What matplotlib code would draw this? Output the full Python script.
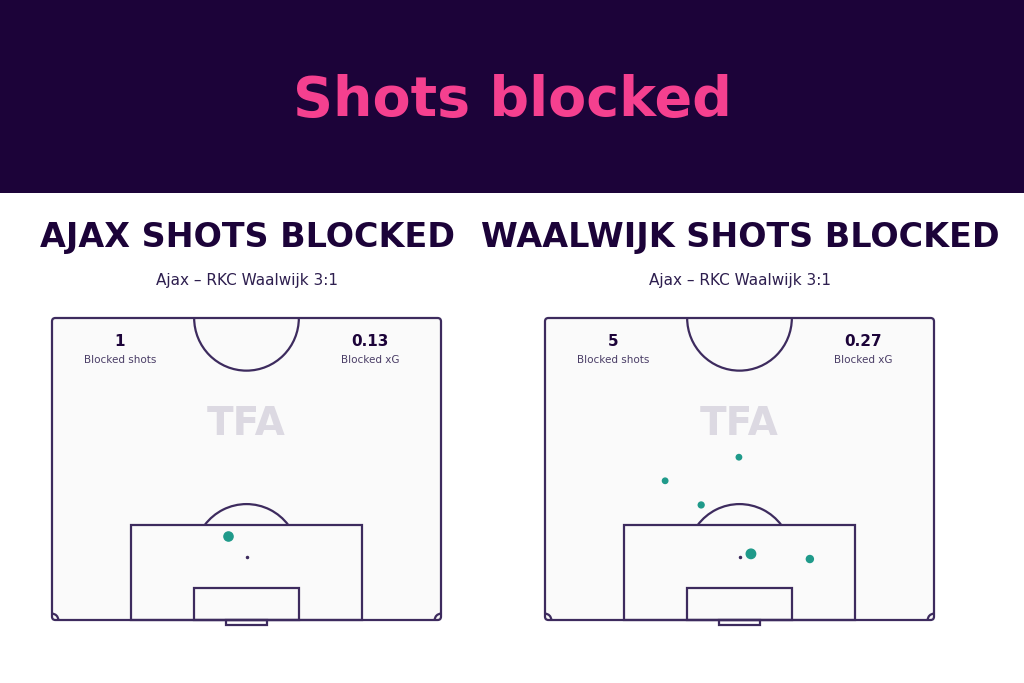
import matplotlib
matplotlib.use("Agg")
import matplotlib.pyplot as plt
from matplotlib.patches import Rectangle, Arc, FancyBboxPatch

# data (pitch metres, 0 = goal line, x across 68m)
ajax_x = [30.8]
ajax_y = [14.6]
ajax_xg = [0.13]

rkc_x = [33.9, 21.0, 27.3, 36.0, 46.3]
rkc_y = [28.3, 24.2, 20.0, 11.5, 10.6]
rkc_xg = [0.02, 0.02, 0.03, 0.14, 0.06]

teams = ["AJAX SHOTS BLOCKED", "WAALWIJK SHOTS BLOCKED"]
match_label = "Ajax – RKC Waalwijk 3:1"
blocked_shots = ["1", "5"]
blocked_xg = ["0.13", "0.27"]

NAVY = "#1c0339"
PINK = "#f5408f"
LINE = "#3d2b5e"
TEAL = "#1f9a8a"

W, H = 1024, 683
fig = plt.figure(figsize=(W / 100, H / 100), dpi=100)
fig.patch.set_facecolor("white")


def fx(px):
  return px / W


def fy(py):
  return 1 - py / H


# header band
band = fig.add_axes([0, fy(193), 1, 193 / H])
band.set_facecolor(NAVY)
band.set_xticks([])
band.set_yticks([])
for s in band.spines.values():
  s.set_visible(False)
fig.text(0.5, fy(101), "Shots blocked", color=PINK, fontsize=40, fontweight="bold",
         ha="center", va="center")


def draw_pitch(ax):
  lw = 1.6
  ax.set_xlim(0, 68)
  ax.set_ylim(0, 52.5)
  ax.set_facecolor("#fafafa")
  ax.set_xticks([])
  ax.set_yticks([])
  for s in ax.spines.values():
    s.set_visible(False)
  kw = dict(fill=False, ec=LINE, lw=lw, clip_on=False)
  ax.add_patch(FancyBboxPatch((0, 0), 68, 52.5, boxstyle="round,pad=0,rounding_size=0.6", **kw))
  # penalty box, six yard box, goal
  ax.add_patch(Rectangle((13.84, 0), 40.32, 16.5, **kw))
  ax.add_patch(Rectangle((24.84, 0), 18.32, 5.5, **kw))
  ax.add_patch(Rectangle((30.34, -0.9), 7.32, 0.9, **kw))
  # arcs
  ax.add_patch(Arc((34, 52.5), 18.3, 18.3, theta1=180, theta2=360, ec=LINE, lw=lw, clip_on=False))
  ax.add_patch(Arc((34, 11), 18.3, 18.3, theta1=37, theta2=143, ec=LINE, lw=lw))
  ax.add_patch(Arc((0, 0), 2.2, 2.2, theta1=0, theta2=90, ec=LINE, lw=lw))
  ax.add_patch(Arc((68, 0), 2.2, 2.2, theta1=90, theta2=180, ec=LINE, lw=lw))
  ax.plot([34], [11], "o", color=LINE, ms=1.5)
  ax.text(34, 34, "TFA", color="#dcd9e2", fontsize=28, fontweight="bold",
          ha="center", va="center", zorder=0)


panels = [(52, ajax_x, ajax_y, ajax_xg), (545, rkc_x, rkc_y, rkc_xg)]
for i, (left, xs, ys, xg) in enumerate(panels):
  cx = left + 195
  fig.text(fx(cx), fy(237), teams[i], color=NAVY, fontsize=24, fontweight="bold",
           ha="center", va="center")
  fig.text(fx(cx), fy(280), match_label, color="#2e1f4f", fontsize=11,
           ha="center", va="center")
  ax = fig.add_axes([fx(left), fy(620), 389 / W, 302 / H])
  draw_pitch(ax)
  ax.scatter(xs, ys, s=[v * 260 + 10 for v in xg], color=TEAL, zorder=5)
  fig.text(fx(left + 68), fy(342), blocked_shots[i], color=NAVY, fontsize=11,
           fontweight="bold", ha="center", va="center")
  fig.text(fx(left + 68), fy(360), "Blocked shots", color="#4a3d66", fontsize=7.5,
           ha="center", va="center")
  fig.text(fx(left + 318), fy(342), blocked_xg[i], color=NAVY, fontsize=11,
           fontweight="bold", ha="center", va="center")
  fig.text(fx(left + 318), fy(360), "Blocked xG", color="#4a3d66", fontsize=7.5,
           ha="center", va="center")

fig.savefig("out.png", dpi=100)
